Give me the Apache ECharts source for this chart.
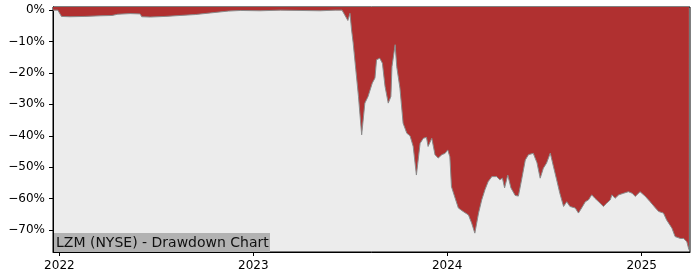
<!DOCTYPE html>
<html>
<head>
<meta charset="utf-8">
<script src="https://cdn.jsdelivr.net/npm/echarts@6/dist/echarts.min.js"></script>
<style>html,body{margin:0;padding:0;background:#fff}#c{width:700px;height:280px}</style>
</head>
<body>
<div id="c"></div>
<script>
const dates = [
'2021-12-20','2021-12-29','2022-01-05','2022-01-21','2022-02-18','2022-03-19','2022-04-10','2022-04-21','2022-05-14','2022-06-02',
'2022-06-05','2022-06-21','2022-07-19','2022-08-16','2022-09-14','2022-10-12','2022-11-15','2022-12-08','2023-01-14','2023-02-21',
'2023-03-30','2023-05-07','2023-06-04','2023-06-17','2023-06-22','2023-06-28','2023-07-02','2023-07-05','2023-07-08','2023-07-13',
'2023-07-18','2023-07-24','2023-07-30','2023-08-05','2023-08-13','2023-08-18','2023-08-21','2023-08-27','2023-09-01','2023-09-06',
'2023-09-12','2023-09-17','2023-09-19','2023-09-25','2023-09-28','2023-10-04','2023-10-10','2023-10-17','2023-10-23','2023-10-29',
'2023-11-04','2023-11-11','2023-11-17','2023-11-23','2023-11-26','2023-12-03','2023-12-09','2023-12-15','2023-12-22','2023-12-28',
'2024-01-02','2024-01-06','2024-01-09','2024-01-16','2024-01-22','2024-01-31','2024-02-10','2024-02-16','2024-02-22','2024-02-29',
'2024-03-06','2024-03-12','2024-03-18','2024-03-25','2024-04-03','2024-04-09','2024-04-14','2024-04-18','2024-04-24','2024-04-30',
'2024-05-08','2024-05-14','2024-05-20','2024-05-27','2024-06-02','2024-06-11','2024-06-18','2024-06-24','2024-06-30','2024-07-06',
'2024-07-13','2024-07-19','2024-07-25','2024-07-31','2024-08-07','2024-08-13','2024-08-19','2024-08-29','2024-09-04','2024-09-10',
'2024-09-17','2024-09-23','2024-09-29','2024-10-05','2024-10-12','2024-10-21','2024-10-27','2024-11-03','2024-11-06','2024-11-12',
'2024-11-19','2024-11-28','2024-12-07','2024-12-14','2024-12-20','2024-12-29','2025-01-08','2025-01-17','2025-01-27','2025-02-02',
'2025-02-11','2025-02-17','2025-02-27','2025-03-05','2025-03-15','2025-03-21','2025-03-27','2025-03-31'
];
const drawdown = [
0,0,-2.0,-2.1,-2.0,-1.8,-1.7,-1.3,-1.1,-1.2,
-2.1,-2.2,-2.0,-1.7,-1.4,-0.9,-0.3,-0.1,-0.2,0,
-0.1,-0.2,0,0,-1.5,-3.3,-1.0,-6.3,-10.4,-19,
-27.5,-39.7,-29.6,-27.5,-23.2,-21.6,-15.8,-15.3,-16.9,-24.3,
-29.6,-27.5,-18,-11,-18,-24.8,-36,-39.2,-40,-43.4,
-52.5,-42.4,-40.8,-40.5,-43.4,-40.8,-46,-47.1,-46,-45.6,
-44.5,-46.7,-56.2,-59.9,-63,-64.1,-65.2,-67.8,-71,-64.6,
-60.4,-57.2,-54.6,-53,-53,-54,-53.5,-56.6,-52.5,-56.6,
-59.0,-59.2,-54,-47.7,-46,-45.6,-48.6,-53.5,-50.3,-48.7,
-45.5,-49.8,-54,-58.3,-62.5,-61,-62.5,-63,-64.6,-63,
-61,-60.4,-58.8,-59.9,-61,-62.5,-61.5,-60.4,-58.8,-59.9,
-58.8,-58.3,-57.8,-58.3,-59.3,-57.8,-59.3,-61,-63,-64.1,
-64.6,-66.8,-69.4,-72.1,-72.7,-72.7,-73.7,-76.3
];
const yTicks = [0,-10,-20,-30,-40,-50,-60,-70];
const titleText = 'LZM (NYSE) - Drawdown Chart';

const DAY = 24*3600*1000;
const chart = echarts.init(document.getElementById('c'), null, {renderer:'canvas'});
const font = 'DejaVu Sans';
chart.setOption({
  animation:false,
  backgroundColor:'#ffffff',
  grid:{left:53,right:10,top:7,bottom:28,show:true,backgroundColor:'#ececec',borderColor:'#000',borderWidth:1},
  xAxis:{
    type:'time',
    min:new Date(2021,11,20).getTime(),
    max:new Date(2025,3,2).getTime(),
    minInterval:365*DAY, maxInterval:366*DAY,
    axisLine:{show:true,onZero:false,lineStyle:{color:'#000',width:1}},
    axisTick:{show:true,length:4,lineStyle:{color:'#000'}},
    axisLabel:{color:'#000',fontFamily:font,fontSize:12,margin:8,showMinLabel:false,showMaxLabel:false,
      formatter:'{yyyy}'},
    splitLine:{show:false}
  },
  yAxis:{
    type:'value',min:-77,max:1,
    axisLine:{show:true,lineStyle:{color:'#000',width:1}},
    axisTick:{show:true,length:4,lineStyle:{color:'#000'},customValues:yTicks},
    axisLabel:{color:'#000',fontFamily:font,fontSize:12,margin:8,customValues:yTicks,
      formatter:v=>(v===0?'0%':'\u2212'+Math.abs(v)+'%')},
    splitLine:{show:false}
  },
  series:[{
    type:'line',
    data:dates.map((d,i)=>[d,drawdown[i]]),
    showSymbol:false,
    lineStyle:{color:'#8a8a8a',width:1},
    areaStyle:{color:'#b03030',opacity:1,origin:'end'}
  }],
  graphic:[{
    type:'group',left:53,top:233,
    children:[
      {type:'rect',shape:{x:0,y:0,width:217,height:19},style:{fill:'#b2b2b2'}},
      {type:'text',x:3,y:10,style:{text:titleText,font:'14px "DejaVu Sans"',fill:'#111',verticalAlign:'middle'}}
    ]
  }]
});
</script>
</body>
</html>
